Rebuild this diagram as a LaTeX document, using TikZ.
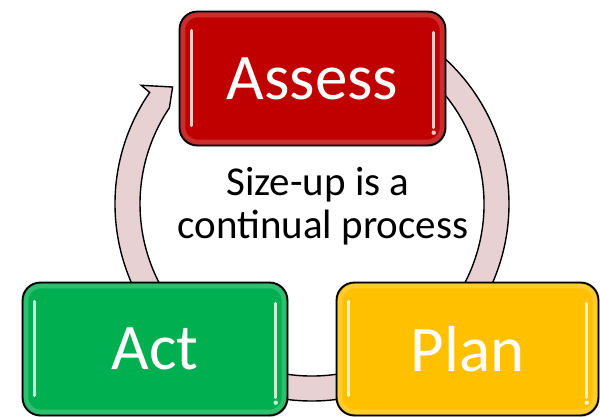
\documentclass[tikz,border=0pt]{standalone}
\usepackage{fontspec}
\setmainfont{Carlito}
\usetikzlibrary{calc,shadows}
\definecolor{ringfill}{HTML}{E8D1D2}
\definecolor{assessred}{HTML}{C00000}
\definecolor{actgreen}{HTML}{00B050}
\definecolor{planyellow}{HTML}{FFC000}
\tikzset{
  stagebox/.style={rectangle, rounded corners=18pt, draw=black, line width=1.4pt,
    inner sep=0pt, text=white, font=\fontsize{65}{76}\selectfont,
    drop shadow={opacity=0.25, shadow xshift=1.5pt, shadow yshift=-2pt}},
  bevel/.style={line width=5pt, rounded corners=15pt},
  gloss/.style={white, line width=2.8pt, line cap=round, opacity=0.8},
  ringstyle/.style={fill=ringfill, draw=black, line width=1.4pt, line join=miter},
  captext/.style={font=\fontsize{41}{43}\selectfont, text=black, inner sep=0pt},
  boxtext/.style={text=white, font=\fontsize{65}{76}\selectfont, inner sep=0pt}
}
\begin{document}
\begin{tikzpicture}[x=1pt,y=1pt]
\useasboundingbox (0,0) rectangle (600,416);
\coordinate (C) at (312,212);
% circular arrow
\draw[ringstyle]
  ($(C)+(145.5:197pt)$) arc[start angle=145.5, end angle=420, radius=197pt]
  -- ($(C)+(420:172pt)$) arc[start angle=420, end angle=146, radius=172pt]
  -- ($(C)+(140:182pt)$) -- ($(C)+(145.2:208pt)$) -- cycle;
% boxes
\node[stagebox, fill=assessred, minimum width=265pt, minimum height=133pt] (assess) at (312.5,337.5) {};
\node[stagebox, fill=actgreen, minimum width=264pt, minimum height=132pt] (act) at (155,67) {};
\node[stagebox, fill=planyellow, minimum width=261pt, minimum height=132pt] (plan) at (467.5,67) {};
% bevels and gloss
\foreach \b/\c in {assess/assessred, act/actgreen, plan/planyellow}{
  \draw[bevel, draw=\c!70!white, opacity=0.6]
    ($(\b.north west)+(3.5,-3.5)$) rectangle ($(\b.south east)+(-3.5,3.5)$);
  \draw[gloss] ($(\b.north west)+(12,-19)$) -- ($(\b.south west)+(12,20)$);
  \draw[gloss] ($(\b.north east)+(-12,-21)$) -- ($(\b.south east)+(-12,18)$);
  \fill[white, opacity=0.8] ($(\b.south east)+(-12,13)$) circle (2.2pt);
  \draw[black, line width=1.4pt, rounded corners=18pt] (\b.north west) rectangle (\b.south east);
}
\node[boxtext] (assesslabel) at (assess) {Assess};
\node[boxtext] (actlabel) at (act) {Act};
\node[boxtext] (planlabel) at (plan) {Plan};
% caption
\node[captext, anchor=base] (cap1) at (318,221) {Size-up is a};
\node[captext, anchor=base] (cap2) at (323,178) {continual process};
\end{tikzpicture}
\end{document}
